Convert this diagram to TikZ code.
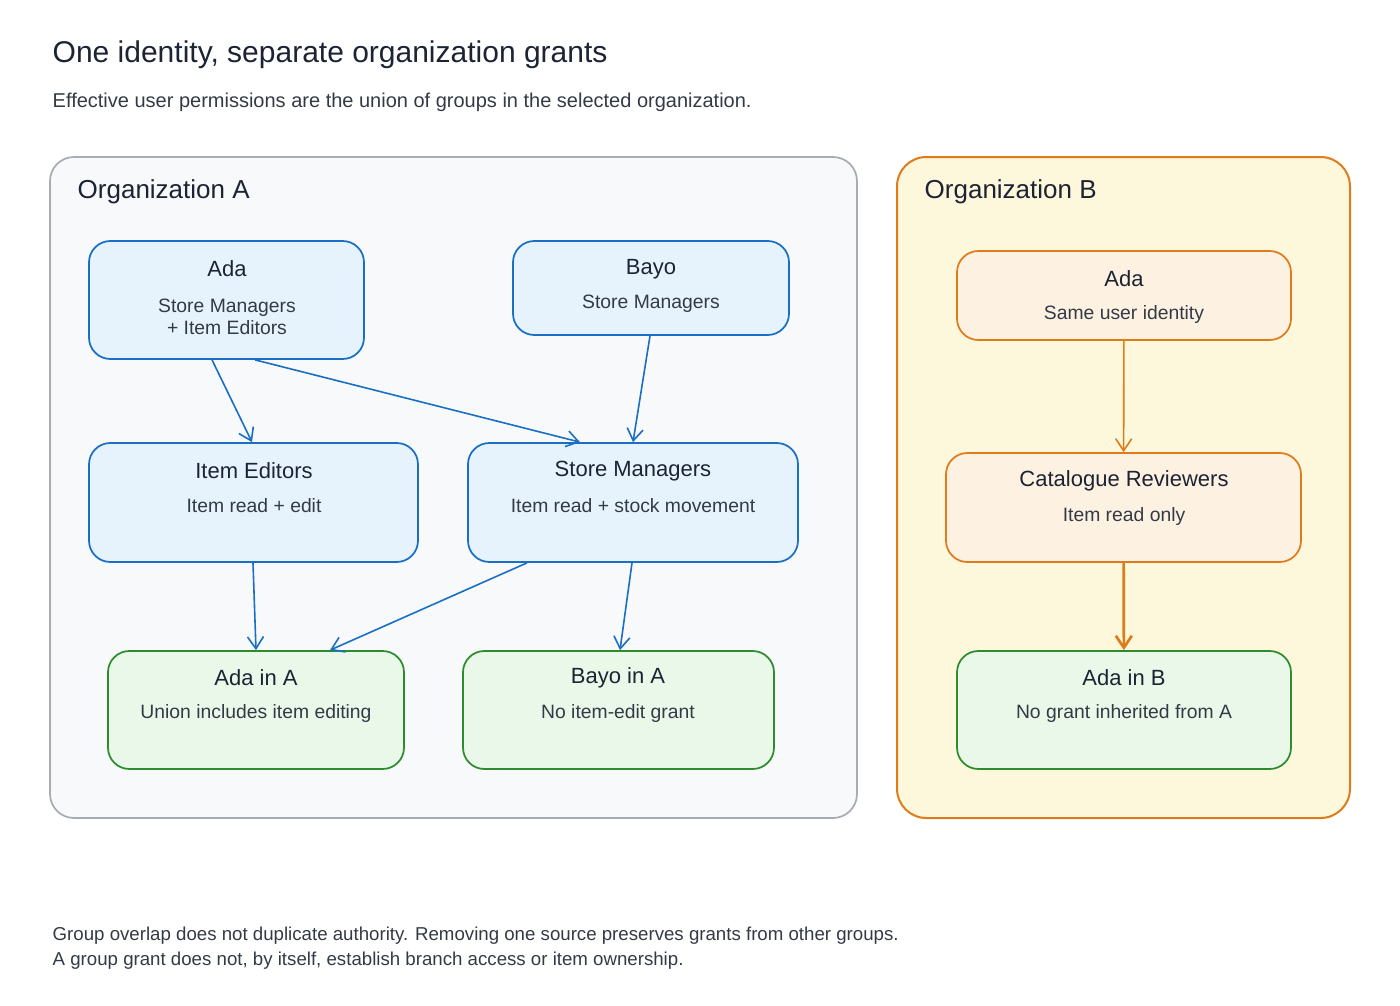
\documentclass[tikz,border=0pt]{standalone}
\usepackage{fontspec}
\setmainfont{Liberation Sans}
\usetikzlibrary{fit,arrows.meta}
\definecolor{bluefill}{HTML}{E6F3FD}
\definecolor{bluedraw}{HTML}{1A6FC4}
\definecolor{greenfill}{HTML}{EAF8EA}
\definecolor{greendraw}{HTML}{2E8B2E}
\definecolor{orangefill}{HTML}{FDF1E2}
\definecolor{orangedraw}{HTML}{E07B1A}
\definecolor{orgafill}{HTML}{F7F9FB}
\definecolor{orgadraw}{HTML}{A8ACB2}
\definecolor{orgbfill}{HTML}{FDF7DC}
\definecolor{ink}{HTML}{1C2333}
\definecolor{subink}{HTML}{333A45}
\tikzset{
 box/.style={rounded corners=16pt, inner sep=0pt, line width=1.3pt},
 bluebox/.style={box, draw=bluedraw, fill=bluefill},
 greenbox/.style={box, draw=greendraw, fill=greenfill},
 orangebox/.style={box, draw=orangedraw, fill=orangefill},
 ttl/.style={text=ink, font=\fontsize{16.5}{19}\selectfont},
 sub/.style={text=subink, font=\fontsize{14.5}{17}\selectfont},
 barb/.style={-{Straight Barb[length=9pt,width=12pt]}, line width=1.2pt},
 bl/.style={barb, draw=bluedraw},
 ol/.style={barb, draw=orangedraw},
}
\begin{document}
\begin{tikzpicture}[x=0.75pt,y=-0.75pt]
\useasboundingbox (0,0) rectangle (1400,1006);
\node[anchor=west, text=ink, font=\fontsize{22.5}{26}\selectfont] (title) at (48,55) {One identity, separate organization grants};
\node[anchor=west, text=subink, font=\fontsize{15}{18}\selectfont] (subtitle) at (48,102) {Effective user permissions are the union of groups in the selected organization.};
% orgs
\node[fit={(50,157)(857,818)}, inner sep=0pt, rounded corners=18pt, draw=orgadraw, fill=orgafill, line width=1.3pt] (orgA) {};
\node[fit={(897,157)(1350,818)}, inner sep=0pt, rounded corners=22pt, draw=orangedraw, fill=orgbfill, line width=1.5pt] (orgB) {};
\node[anchor=west, text=ink, font=\fontsize{19.5}{23}\selectfont] (orgAl) at (73,192) {Organization A};
\node[anchor=west, text=ink, font=\fontsize{19.5}{23}\selectfont] (orgBl) at (920,192) {Organization B};
% boxes
\node[bluebox, fit={(89,241)(364,359)}] (ada) {};
\node[ttl] at (227,269) {Ada};
\node[sub, align=center] at (227,317) {Store Managers\\+ Item Editors};
\node[bluebox, fit={(513,241)(789,335)}] (bayo) {};
\node[ttl] at (651,269) {Bayo};
\node[sub] at (651,304) {Store Managers};
\node[bluebox, fit={(89,443)(418,562)}] (ie) {};
\node[ttl] at (254,471) {Item Editors};
\node[sub] at (254,506) {Item read + edit};
\node[bluebox, fit={(468,443)(798,562)}] (sm) {};
\node[ttl] at (633,471) {Store Managers};
\node[sub] at (633,506) {Item read + stock movement};
\node[greenbox, fit={(108,651)(404,769)}] (adaA) {};
\node[ttl] at (256,678) {Ada in A};
\node[sub] at (256,713) {Union includes item editing};
\node[greenbox, fit={(463,651)(774,769)}] (bayoA) {};
\node[ttl] at (618,678) {Bayo in A};
\node[sub] at (618,713) {No item-edit grant};
\node[orangebox, fit={(957,251)(1291,340)}] (adaB) {};
\node[ttl] at (1124,279) {Ada};
\node[sub] at (1124,314) {Same user identity};
\node[orangebox, fit={(946,453)(1301,562)}] (cat) {};
\node[ttl] at (1124,481) {Catalogue Reviewers};
\node[sub] at (1124,516) {Item read only};
\node[greenbox, fit={(957,651)(1291,769)}] (adaInB) {};
\node[ttl] at (1124,678) {Ada in B};
\node[sub] at (1124,713) {No grant inherited from A};
% edges
\draw[bl] (ada.south -| 212,0) -- (ie.north -| 252,0);
\draw[bl] (ada.south -| 255,0) -- (sm.north -| 580,0);
\draw[bl] (bayo.south -| 650,0) -- (sm.north -| 633,0);
\draw[bl] (ie.south -| 253,0) -- (adaA.north -| 256,0);
\draw[bl] (sm.south -| 527,0) -- (adaA.north -| 330,0);
\draw[bl] (sm.south -| 632,0) -- (bayoA.north -| 620,0);
\draw[ol] (adaB) -- (cat);
\draw[ol, line width=2pt] (cat) -- (adaInB);
% footer
\node[anchor=west, text=subink, align=left, font=\fontsize{14}{18.5}\selectfont] (foot) at (48,948) {Group overlap does not duplicate authority. Removing one source preserves grants from other groups.\\A group grant does not, by itself, establish branch access or item ownership.};
\end{tikzpicture}
\end{document}
